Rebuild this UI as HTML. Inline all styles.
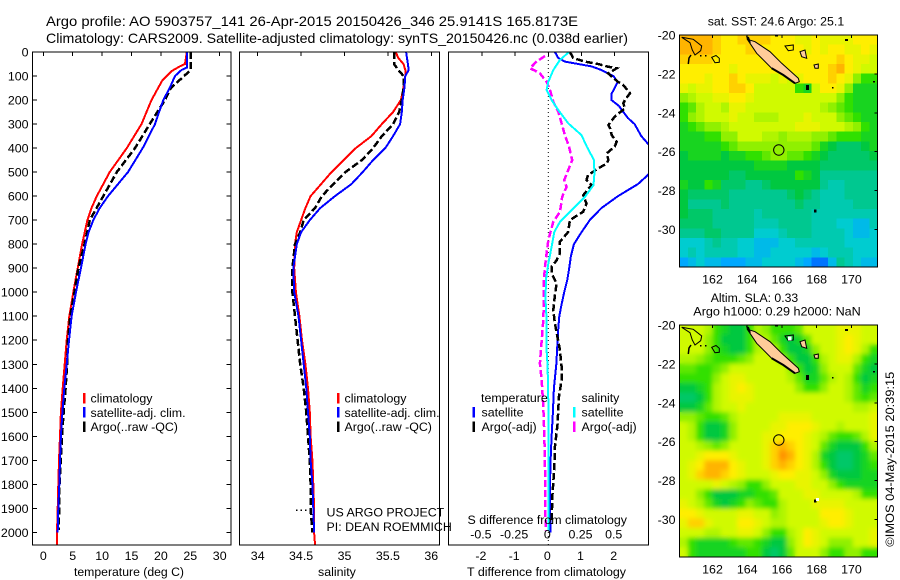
<!DOCTYPE html>
<html>
<head>
<meta charset="utf-8">
<title>Argo profile 5903757_141</title>
<style>
html,body{margin:0;padding:0;background:#fff;}
svg{display:block;}
text{font-family:"Liberation Sans",sans-serif;font-size:12.4px;fill:#000;}
.title{font-size:14px;}
</style>
</head>
<body>
<svg id="fig" xmlns="http://www.w3.org/2000/svg" width="900" height="580" viewBox="0 0 900 580">
  <defs>
    <clipPath id="clipT"><rect x="32.5" y="52" width="198.5" height="493"/></clipPath>
    <clipPath id="clipS"><rect x="239.5" y="52" width="200" height="493"/></clipPath>
    <clipPath id="clipD"><rect x="448.5" y="52" width="200" height="493"/></clipPath>
    <clipPath id="clipM1"><rect x="679.5" y="35" width="198" height="232"/></clipPath>
    <clipPath id="clipM2"><rect x="679.5" y="325" width="198" height="232"/></clipPath>
    <filter id="smooth" x="-5%" y="-5%" width="110%" height="110%"><feGaussianBlur stdDeviation="2.4"/></filter>
    <g id="coast">
      <polygon points="747.3,39.3 755,41.7 770,51.7 781.7,63.3 798.3,78.3 799.3,81.7 795,83.3 783.3,75 771.7,68.3 756.7,53.3 750,43.3" fill="#ffcc99" stroke="#000" stroke-width="1"/>
      <polyline points="771.7,68.3 783.3,75 795,83.3" fill="none" stroke="#000" stroke-width="2"/>
      <polygon points="746,36 749,37 751,43 748,41" fill="#000"/>
      <polygon points="681.7,37.3 693.3,39.3 701.7,46 700.7,50.7 695,55 692.3,50 690,42.7" fill="none" stroke="#000"/>
      <polygon points="711.7,57.3 716,55.5 719.3,58.3 719.3,62.3 715,62.7" fill="none" stroke="#000"/>
      <polyline points="688.3,64 689,58 691,55" fill="none" stroke="#000" stroke-width="1.5"/>
      <rect x="700" y="55" width="1.5" height="1.5" fill="#000"/>
      <rect x="705" y="55" width="1.5" height="1.5" fill="#000"/>
      <polygon points="785,46 793.3,45 793.3,50 788.3,50.7" fill="none" stroke="#000"/>
      <polygon points="800,51.7 805,50 806.7,58.3 801.7,56.7" fill="#ffcc99" stroke="#000"/>
      <polygon points="814,65 818.3,64 818.3,68.3 815,68.3" fill="#ffcc99" stroke="#000"/>
      <rect x="806" y="85" width="3" height="5" fill="#000"/>
      <rect x="814" y="209.5" width="2.5" height="3" fill="#000"/>
      <rect x="845" y="39" width="3" height="2" fill="#000"/>
      <rect x="775" y="35" width="3" height="1.5" fill="#000"/>
      <rect x="832" y="87" width="1.5" height="1.5" fill="#000"/>
      <rect x="873" y="81" width="2" height="1.5" fill="#000"/>
    </g>
  </defs>

  <text class="title" x="46" y="26" textLength="532" lengthAdjust="spacingAndGlyphs">Argo profile: AO 5903757_141 26-Apr-2015 20150426_346 25.9141S 165.8173E</text>
  <text class="title" x="46" y="43" textLength="582" lengthAdjust="spacingAndGlyphs">Climatology: CARS2009. Satellite-adjusted climatology: synTS_20150426.nc (0.038d earlier)</text>

  <g id="mapSst"></g>
  <g id="mapSla"></g>
  <g id="panelT"></g>
  <g id="panelS"></g>
  <g id="panelD"></g>

  <g>
    <rect x="83" y="393" width="2.5" height="10.5" fill="#ff0000"/>
    <rect x="83" y="407" width="2.5" height="10.5" fill="#0000ff"/>
    <rect x="83" y="421.5" width="2.5" height="10.5" fill="#000"/>
    <text x="90.5" y="402.5">climatology</text>
    <text x="90.5" y="417">satellite-adj. clim.</text>
    <text x="90.5" y="431">Argo(..raw -QC)</text>
  </g>
  <g>
    <rect x="337" y="393" width="2.5" height="10.5" fill="#ff0000"/>
    <rect x="337" y="407" width="2.5" height="10.5" fill="#0000ff"/>
    <rect x="337" y="421.5" width="2.5" height="10.5" fill="#000"/>
    <text x="344.5" y="402.5">climatology</text>
    <text x="344.5" y="417">satellite-adj. clim.</text>
    <text x="344.5" y="431">Argo(..raw -QC)</text>
    <text x="326.5" y="516.5">US ARGO PROJECT</text>
    <text x="326.5" y="531">PI: DEAN ROEMMICH</text>
  </g>
  <g>
    <text x="481" y="402">temperature</text>
    <text x="581.5" y="402">salinity</text>
    <rect x="472.5" y="407" width="2.5" height="10.5" fill="#0000ff"/>
    <rect x="472.5" y="421.5" width="2.5" height="10.5" fill="#000"/>
    <rect x="573" y="407" width="2.5" height="10.5" fill="#00ffff"/>
    <rect x="573" y="421.5" width="2.5" height="10.5" fill="#ff00ff"/>
    <text x="481.5" y="416.5">satellite</text>
    <text x="481.5" y="431">Argo(-adj)</text>
    <text x="581.5" y="416.5">satellite</text>
    <text x="581.5" y="431">Argo(-adj)</text>
    <text x="467.5" y="524" textLength="159.5" lengthAdjust="spacingAndGlyphs">S difference from climatology</text>
  </g>

  <text x="74" y="576" textLength="110" lengthAdjust="spacingAndGlyphs">temperature (deg C)</text>
  <text x="318" y="576">salinity</text>
  <text x="467" y="576" textLength="159" lengthAdjust="spacingAndGlyphs">T difference from climatology</text>

  <text x="707.7" y="25.5" textLength="136.5" lengthAdjust="spacingAndGlyphs">sat. SST: 24.6 Argo: 25.1</text>
  <text x="710.7" y="302" textLength="87.5" lengthAdjust="spacingAndGlyphs">Altim. SLA: 0.33</text>
  <text x="693.3" y="315.7" textLength="167.5" lengthAdjust="spacingAndGlyphs">Argo h1000: 0.29 h2000: NaN</text>
  <text transform="translate(894,546.7) rotate(-90)" textLength="175" lengthAdjust="spacingAndGlyphs">©IMOS 04-May-2015 20:39:15</text>
</svg>

<script>
// ---------- depth axis ----------
const depthTicks = [0,100,200,300,400,500,600,700,800,900,1000,1100,1200,1300,1400,1500,1600,1700,1800,1900,2000];

// ---------- temperature panel ----------
const tempTicks = [0,5,10,15,20,25,30];
const tempClimDepth = [0,50,60,80,100,120,200,300,400,500,600,650,700,800,900,1000,1100,1200,1300,1400,1500,1600,1700,1800,1900,2000,2050];
const tempClimValues = [24.4,24.1,23.2,21.8,21.0,20.2,18.4,16.7,14.2,11.3,9.1,8.2,7.5,6.6,5.85,5.1,4.43,3.98,3.64,3.3,3.0,2.84,2.67,2.55,2.45,2.33,2.33];
const tempSatDepth = [0,60,65,75,100,150,200,250,300,400,500,550,600,650,700,750,800,900,1000,1100,1200,1300,1400,1500,1600,1700,1800,1900,2000];
const tempSatValues = [24.4,24.4,24.4,23.5,22.4,21.5,20.4,19.7,19.0,16.9,14.4,12.7,11.0,9.6,8.5,7.7,7.2,6.4,5.56,4.82,4.37,3.98,3.57,3.24,3.0,2.84,2.72,2.55,2.45];
const tempArgoDepth = [0,75,150,200,300,400,500,600,700,800,900,1000,1100,1200,1300,1400,1500,1600,1700,1800,1900,1990];
const tempArgoValues = [25.07,25.07,21.7,20.7,18.1,15.6,12.5,10.2,7.9,7.0,5.95,5.3,4.6,4.2,4.05,3.8,3.46,3.18,2.96,2.75,2.72,2.6];

// ---------- salinity panel ----------
const salTicks = [34,34.5,35,35.5,36];
const salClimDepth = [0,25,50,75,100,150,200,250,300,350,400,450,500,550,600,650,700,750,800,900,1000,1100,1200,1300,1400,1500,1600,1700,1800,1900,2000,2050];
const salClimValues = [35.59,35.62,35.68,35.7,35.7,35.68,35.65,35.56,35.43,35.31,35.13,34.99,34.85,34.73,34.61,34.55,34.5,34.45,34.43,34.42,34.44,34.48,34.51,34.55,34.58,34.6,34.61,34.63,34.64,34.65,34.65,34.66];
const salSatDepth = [0,50,75,100,150,200,250,300,350,400,450,500,550,600,650,700,750,800,900,1000,1100,1200,1300,1400,1500,1600,1700,1800,1900,2000];
const salSatValues = [35.71,35.73,35.74,35.7,35.69,35.67,35.66,35.64,35.56,35.47,35.33,35.21,35.08,34.89,34.72,34.6,34.5,34.45,34.41,34.42,34.47,34.5,34.53,34.56,34.58,34.6,34.61,34.63,34.64,34.65];
const salArgoDepth = [0,50,75,100,150,200,250,300,350,400,450,500,550,600,650,700,750,800,900,1000,1100,1200,1300,1400,1500,1600,1700,1800,1900,2000];
const salArgoValues = [35.57,35.57,35.62,35.68,35.68,35.66,35.63,35.56,35.43,35.33,35.2,35.01,34.87,34.74,34.66,34.53,34.49,34.43,34.4,34.4,34.43,34.46,34.49,34.53,34.56,34.58,34.6,34.61,34.61,34.63];
const salRawDepth = [1908,1908,1908,1908];
const salRawValues = [34.44,34.48,34.53,34.58];

// ---------- difference panel ----------
const diffTTicks = [-2,-1,0,1,2];
const diffTLabels = ['-2','-1','0','1','2'];
const diffSTicks = [-0.5,-0.25,0,0.25,0.5];
const diffSLabels = ['-0.5','-0.25','0','0.25','0.5'];
const dTSatDepth = [0,25,40,50,60,75,100,125,150,175,200,225,250,275,300,350,375,400,450,512,550,600,650,700,750,800,850,900,950,1000,1050,1100,1150,1200,1300,1400,1500,1600,1700,1800,1900,2000];
const dTSatValues = [0.2,0.3,0.5,0.9,1.3,1.6,1.96,2.09,2.0,1.9,1.9,2.13,2.26,2.4,2.6,2.8,2.96,3.1,3.4,3.0,2.7,2.1,1.6,1.25,1.0,0.77,0.68,0.63,0.57,0.48,0.4,0.33,0.3,0.28,0.24,0.17,0.14,0.1,0.07,0.05,0.05,0.07];
const dTArgoDepth = [0,25,40,50,61,68,89,124,138,172,200,214,235,256,269,304,318,346,374,394,422,450,464,485,512,533,554,596,631,665,700,749,790,839,867,894,922,964,1012,1075,1130,1240,1310,1366,1436,1547,1644,1728,1853,1964];
const dTArgoValues = [0.65,0.75,1.1,1.5,1.8,2.06,1.8,2.1,2.26,2.46,2.31,2.26,2.31,2.11,2.0,1.81,1.86,1.91,2.06,2.0,1.76,1.81,1.76,1.5,1.2,1.15,1.3,1.05,1.15,1.05,0.65,0.6,0.35,0.35,0.25,0.1,0.1,0.25,0.2,0.15,0.2,0.35,0.4,0.4,0.32,0.28,0.2,0.18,0.12,0.1];
const dSSatDepth = [0,33,75,124,158,200,242,297,346,394,450,506,554,603,651,707,749,811,881,950,1033,1117,1242,1311,1450,1589,1728,1867,1992];
const dSSatValues = [0.156,0.088,0.038,0,-0.013,0.025,0.075,0.15,0.25,0.29,0.344,0.347,0.34,0.276,0.188,0.088,0.045,0.025,0,-0.018,-0.02,-0.013,-0.013,-0.005,0,0,0.003,0.003,0];
const dSArgoDepth = [17,40,68,78,89,124,158,207,249,297,346,394,450,492,533,561,603,665,707,783,839,894,950,1026,1117,1200,1297,1367,1478,1589,1728,1867,1992];
const dSArgoValues = [-0.025,-0.088,-0.138,-0.1,-0.063,-0.013,0.013,0.038,0.075,0.1,0.125,0.156,0.18,0.15,0.12,0.138,0.105,0.088,0.038,0,-0.013,-0.025,-0.033,-0.033,-0.038,-0.05,-0.063,-0.05,-0.038,-0.03,-0.025,-0.025,-0.018];

// ---------- maps ----------
const lonTicks = [162,164,166,168,170];
const latTicks = [-20,-22,-24,-26,-28,-30];
const lonRange = [160.1,171.5];
const latRange = [-20,-31.93];
const argoLon = [165.8173];
const argoLat = [-25.9141];
// colour-class values (0 dark blue ... 11 red-orange)
const sstRows = [
[10,10,10,10,9.5,9,9,9.5,9.5,9.5,9.5,9,9,9,8.5,8.5,9,8.5,8.5,8.5,8.5,9,9,9],
[10,10,10,10,9.5,9,9,9,9.5,9.5,9,9,9,9,9,8.5,9,8.5,9,9,8.5,8.5,9,8.5],
[9.5,9.5,9.5,9.5,9,9,9,9,9,9,9,9,9,9,9,9,9,9,9,9.5,9,8.5,8.5,8],
[9,9,9,9,9,9,8.5,9,9,9,9,9,9,9,9,9,9,9,9.5,10,9,8.5,8,8],
[9,9,9,8.5,9,9,9.5,9,8.5,8.5,8.5,8,8.5,8,8.5,9,9,9,9.5,9,8.5,7,6,6],
[8.5,8,8.5,8.5,9,9,9.5,9.5,9,8,8,8,8,8,6,5.5,8,9,9,8.5,7,5.5,5.5,5.5],
[7,7.5,8,8,8.5,8.5,9,9,8.5,8,8,8,8,8,8,8,8,8,8,7,6,5.5,5.5,5.5],
[6,6.5,7.5,8,8,7.5,8.5,8.5,8,8,8,8,8,8,8,8,8,7.5,7,6.5,6,5.5,5.5,5.5],
[6,7,7.5,8,8,8,8.5,8,8,7.5,7.5,7.5,8,8,8,8.5,8,8,8,7,6.5,6,5.5,5.5],
[5.5,6,6.5,7,7,7.5,8,8,8,8,8,8,8,8,8.5,8.5,8.5,8,8,8,7.5,7,6,5.5],
[5.5,5.5,5.5,6,6,7,7,8,8,8,7.5,7.5,7,7.5,7.5,7.5,7,7,6.5,6,6,6,5.5,5.5],
[5.5,5.5,5.5,5.5,5.5,6,6.5,7,7,7,7,7,7,7,7,7,6.5,5.5,5,4.5,4.5,4.5,5,5.5],
[5,5.5,5.5,5.5,5.5,5,5.5,5.5,6,6,6.5,7,7,6.5,6.5,6,5.5,5,4.5,4.5,4.5,4.5,4.5,5],
[5,5,5,5,5,5,5,5,5,5.5,5.5,5.5,5.5,5,5,5,5,4.5,4.5,4.5,4.5,4.5,4.5,4.5],
[5,5,5,5,5,5,4.5,4.5,5,5,5,5,5,5,6,5.5,5,4,4,4,4,4,4,4],
[5.5,5,5,6,5.5,4.5,4.5,4.5,4,4,4.5,5,5,5,5,5,5,4,3.5,3.5,4,4,4,4],
[5,4.5,4.5,4.5,4.5,4.5,4,4,4,4,4,4,4,4.5,5,4.5,4,3.5,3.5,3.5,4,4,4,4],
[5,4,4,4,4,4.5,4,4,4,4,4,4,4,4,4.5,4,4,3.5,3.5,3.5,3.5,4,4,4],
[5,4.5,4.5,4.5,4,4,4,4,4,3.5,4,4,4,4,4,4,3.5,3.5,3.5,3.5,3.5,3.5,3.5,3.5],
[4.5,4.5,4.5,4.5,4,4,4,4,4,3.5,3.5,3.5,4,4,4,4,3.5,3.5,3.5,3,3,2.5,2.5,3.5],
[4,4,4,4.5,4.5,4,4,4,4,3,3,3,3.5,4,4,4,3.5,3.5,3.5,3.5,3,2.5,2.5,3],
[3,3,3,3.5,4,3.5,3.5,3,3,2.5,2.5,2.5,3,3,3.5,3.5,3.5,3.5,3.5,3.5,3,3,3,3],
[3,3.5,3,3.5,3.5,3.5,3.5,3,3,2.5,2.5,3,3,3,3,3,2.5,3,3.5,3.5,3.5,3,3,3],
[2,2.5,3,2.5,2.5,2,2,2,2.5,2.5,3,3,3,3,2.5,2,1.5,1.5,2.5,4,3.5,3,2.5,2.5]
];
const slaRows = [
[8,8,8,7.5,6,5.5,5,5,6,7.5,7,6,6,6,6.5,8,8,8,8,8.5,8.5,8.5,8,8],
[8,8,8,7,6,5,5,5,6,7.5,7.5,6.5,5.5,5,5.5,6.5,8,8,8,8.5,9,8.5,8,8],
[8,8,8,7,6,5.5,5,5,6,7.5,8,7.5,6,5,5,5.5,7,8,8,8.5,9,8.5,7.5,6],
[7.5,7.5,7,6.5,6,6,6,6.5,7,8,8,8,7,6,5,5,6,7.5,8,8.5,8.5,7.5,6,5.5],
[6.5,6.5,6,6,6.5,7,8,8,8,8,8,8,8,7,6,5,5.5,7,8,8,8,6.5,5.5,5],
[6,6,6,6,7,8,8.5,8.5,8,8,8,8,8,7.5,6.5,5.5,5.5,6.5,7.5,8,7.5,6,5,5.5],
[5,5,5.5,6,7.5,8,8.5,9,8.5,8,8,8,8,8,7,6,6,7,8,8,7.5,6.5,5.5,6],
[4.5,4.5,5,6,7.5,8,8.5,8.5,8.5,8,8,8,8,8,8,8,8,8,8,8,7.5,6.5,6,6.5],
[5,5,5.5,6.5,7.5,8,8,8.5,8,8,8,8,8,8,8,8,8,8,8,8,8,7.5,7.5,8],
[7,7,6.5,6,6,6.5,7.5,8,8,8,8,8,8.5,8.5,8.5,8.5,8,8,8,8,8,8,8,8.5],
[8,7.5,6,5,5,5.5,7,8,8,8,8,8.5,8.5,9,9,9,8.5,8,8,7.5,8,8,8,8.5],
[8,7.5,6,5,5,5.5,7,8,8,8,8.5,8.5,9,9,9,8.5,8,7.5,6.5,6,6,6.5,7.5,8.5],
[8,8,7.5,7,6.5,7,8,8,8,8,8.5,9.5,10,9.5,9,8.5,8,6.5,5.5,5,5,5,6,7.5],
[8,8,8.5,9,9,9,8.5,8,8,8,8.5,9.5,10.5,10,9,8.5,7.5,5.5,5,4.5,4.5,5,5.5,6.5],
[8,8.5,9,10,10,10,9,8.5,8,8,8.5,9.5,10,9.5,9,8.5,7.5,6,5,4.5,4.5,5,5.5,6],
[8,8.5,9.5,10,10,9.5,9,8.5,8,8,8,8.5,9,9,8.5,8.5,8,7,5.5,5,5,5,5.5,5.5],
[8,8,8,8,8.5,8,7.5,7,6,6,7,8,8,8,8.5,8.5,8,8,7,6,5.5,5.5,5.5,5.5],
[8,8,7,6,5,5,5,5.5,5.5,6,6,6.5,8,8,8,8.5,8.5,8,8,8,8,7.5,6,6],
[8.5,8,7.5,6.5,5.5,5,5.5,6,7,6.5,6,6,7.5,8,8,8,8.5,8.5,8.5,8.5,8,8,8,8],
[9,9,8.5,8,8,8,8,8.5,8.5,8,8,7,7.5,8,8,8,8,9,9,9,8.5,8,8,8],
[8.5,9.5,9.5,8.5,8,8,8,9,9,8.5,8,7.5,7.5,8,8,8,8,8.5,9,9,8.5,8,8,8],
[8,8,8,7.5,7.5,8,8,8.5,8.5,8,7,6,6,7.5,8,9,8.5,8,8,8,8,8,8,8.5],
[7.5,6,5.5,5.5,5.5,5.5,6,6.5,6.5,6,5.5,5,5,7,8,9,8.5,8,7,7,7,8,8,8.5],
[8,6,5.5,5.5,5.5,5.5,5.5,5.5,6,6,5,4.5,5,6.5,8,8,8,7,6,6,7,7,6,6]
];
const colourStops = ['#0000a0','#0040ff','#00a8ff','#00ccd0','#00c890','#00c840','#30e000','#90f000','#d0fa00','#ffee00','#ffb400','#ff7000'];

const NS = 'http://www.w3.org/2000/svg';
function mk(parent, tag, attrs, txt) {
  const el = document.createElementNS(NS, tag);
  for (const k in attrs) el.setAttribute(k, attrs[k]);
  if (txt !== undefined) el.textContent = txt;
  parent.appendChild(el);
  return el;
}
function hexToRgb(h){return [parseInt(h.substr(1,2),16),parseInt(h.substr(3,2),16),parseInt(h.substr(5,2),16)];}
function levelColour(v){
  const i = Math.max(0, Math.min(colourStops.length-2, Math.floor(v)));
  const f = Math.max(0, Math.min(1, v-i));
  const a = hexToRgb(colourStops[i]), b = hexToRgb(colourStops[i+1]);
  return 'rgb('+a.map((c,j)=>Math.round(c+(b[j]-c)*f)).join(',')+')';
}
const yTop = 52, pxPerM = 0.2402;
function depthY(d){ return yTop + d*pxPerM; }
const tempX = v => 43.3 + v*5.88;
const salX  = v => 257.7 + (v-34)*86.8;
const diffX = v => 548.3 + v*33.2;
const diffSX = v => diffX(v*4);

function drawLine(parent, depths, vals, xf, colour, width, dash, name, clip) {
  const pts = depths.map((d,i)=> xf(vals[i]).toFixed(1)+','+depthY(d).toFixed(1)).join(' ');
  const el = mk(parent,'polyline',{points:pts,fill:'none',stroke:colour,'stroke-width':width,'clip-path':'url(#'+clip+')','shape-rendering':'crispEdges'});
  if (dash) el.setAttribute('stroke-dasharray', dash);
  
  
}
function drawFrame(parent, x0, x1, y0, y1) {
  const el = mk(parent,'rect',{x:x0,y:y0,width:x1-x0,height:y1-y0,fill:'none',stroke:'#000','stroke-width':1,'shape-rendering':'crispEdges'});
  
  
}
function topTick(parent, x, y0, len) {
  const el = mk(parent,'line',{x1:x,x2:x,y1:y0,y2:y0+len,stroke:'#000','shape-rendering':'crispEdges'});
  
  
}
function sideTick(parent, y, xa, xb) {
  const el = mk(parent,'line',{x1:xa,x2:xb,y1:y,y2:y,stroke:'#000','shape-rendering':'crispEdges'});
  
  
}
function label(parent, x, y, anchor, txt, name) {
  const el = mk(parent,'text',{x:x,y:y,'text-anchor':anchor},txt);
  
  
}

// Temperature panel
const gT = document.getElementById('panelT');
drawLine(gT,tempClimDepth,tempClimValues,tempX,'#ff0000',2,null,'temperature-climatology-line','clipT');
drawLine(gT,tempArgoDepth,tempArgoValues,tempX,'#000',2.5,'7 3','temperature-argo-line','clipT');
drawLine(gT,tempSatDepth,tempSatValues,tempX,'#0000ff',2,null,'temperature-satellite-line','clipT');
drawFrame(gT,32.5,231,52,545);
tempTicks.forEach(t=>{ topTick(gT,tempX(t),52,4); label(gT,tempX(t),560,'middle',String(t),'temperature-tick-label'); });
depthTicks.forEach(d=>{ const y=depthY(d); sideTick(gT,y,32.5,37); sideTick(gT,y,226.5,231); label(gT,28.5,y+4.5,'end',String(d),'depth-tick-label'); });

// Salinity panel
const gS = document.getElementById('panelS');
drawLine(gS,salClimDepth,salClimValues,salX,'#ff0000',2,null,'salinity-climatology-line','clipS');
drawLine(gS,salArgoDepth,salArgoValues,salX,'#000',2.5,'7 3','salinity-argo-line','clipS');
drawLine(gS,salRawDepth,salRawValues,salX,'#000',1.5,'1.5 3','salinity-argo-raw-dots','clipS');
drawLine(gS,salSatDepth,salSatValues,salX,'#0000ff',2,null,'salinity-satellite-line','clipS');
drawFrame(gS,239.5,439.5,52,545);
salTicks.forEach(t=>{ topTick(gS,salX(t),52,4); label(gS,salX(t),560,'middle',String(t),'salinity-tick-label'); });

// Difference panel
const gD = document.getElementById('panelD');
const zeroLine = mk(gD,'line',{x1:diffX(0),x2:diffX(0),y1:52,y2:545,stroke:'#000','stroke-dasharray':'1 3'});


drawLine(gD,dTSatDepth,dTSatValues,diffX,'#0000ff',2,null,'t-difference-satellite-line','clipD');
drawLine(gD,dTArgoDepth,dTArgoValues,diffX,'#000',2.5,'7 3','t-difference-argo-line','clipD');
drawLine(gD,dSArgoDepth,dSArgoValues,diffSX,'#ff00ff',2.5,'7 3','s-difference-argo-line','clipD');
drawLine(gD,dSSatDepth,dSSatValues,diffSX,'#00ffff',2,null,'s-difference-satellite-line','clipD');
drawFrame(gD,448.5,648.5,52,545);
diffTTicks.forEach((t,i)=>{ topTick(gD,diffX(t),52,4); label(gD,diffX(t)-1,560,'middle',diffTLabels[i],'t-difference-tick-label'); });
diffSTicks.forEach((t,i)=>{ label(gD,diffSX(t)-1,538.7,'middle',diffSLabels[i],'s-difference-tick-label'); });

// Maps
function drawMap(rootId, rows, top, clipId, smooth, mapName) {
  const root = document.getElementById(rootId);
  const x0 = 679.5, x1 = 877.5, y0 = top, y1 = top + 232;
  const lonX = lon => x0 + (lon-lonRange[0])/(lonRange[1]-lonRange[0])*(x1-x0);
  const latY = lat => y0 + (lat-latRange[0])/(latRange[1]-latRange[0])*(y1-y0);
  const nR = rows.length, nC = rows[0].length;
  const paint = (g) => {
    rows.forEach((row,r)=>row.forEach((v,c)=>{
      const lonA = lonRange[0]+(lonRange[1]-lonRange[0])*c/nC;
      const lonB = lonRange[0]+(lonRange[1]-lonRange[0])*(c+1)/nC;
      const latA = latRange[0]+(latRange[1]-latRange[0])*r/nR;
      const latB = latRange[0]+(latRange[1]-latRange[0])*(r+1)/nR;
      const cell = mk(g,'rect',{x:lonX(lonA),y:latY(latA),width:lonX(lonB)-lonX(lonA)+0.5,height:latY(latB)-latY(latA)+0.5,fill:levelColour(v)});
      
      
    }));
  };
  const base = mk(root,'g',{'clip-path':'url(#'+clipId+')','shape-rendering':'crispEdges'});
  
  
  paint(base);
  if (smooth) {
    const wrap = mk(root,'g',{'clip-path':'url(#'+clipId+')'});
    
    
    const blur = mk(wrap,'g',{filter:'url(#smooth)'});
    paint(blur);
  }
  const cw = mk(root,'g',{'clip-path':'url(#'+clipId+')'});
  const coast = mk(cw,'use',{href:'#coast',transform:'translate(0,'+(top-35)+')'});
  
  
  if (smooth) {
    const sp1 = mk(cw,'rect',{x:788,y:46.5,width:3.5,height:4,fill:'#fff',transform:'translate(0,'+(top-35)+')'});
    
    
    const sp2 = mk(cw,'rect',{x:816,y:208,width:3,height:3,fill:'#fff',transform:'translate(0,'+(top-35)+')'});
    
    
  }
  const marker = mk(root,'circle',{cx:lonX(argoLon[0]),cy:latY(argoLat[0]),r:5.2,fill:'none',stroke:'#000','stroke-width':1});
  
  
  drawFrame(root,x0,x1,y0,y1);
  lonTicks.forEach(l=>{ topTick(root,lonX(l),y0,3); label(root,lonX(l),y1+16.5,'middle',String(l),'longitude-tick-label'); });
  latTicks.forEach(l=>{ sideTick(root,latY(l),x1-3,x1); label(root,675.5,latY(l)+4.5,'end',String(l),'latitude-tick-label'); });
}
drawMap('mapSst', sstRows, 35, 'clipM1', false, 'sst-map');
drawMap('mapSla', slaRows, 325, 'clipM2', true, 'sla-map');
</script>
</body>
</html>
